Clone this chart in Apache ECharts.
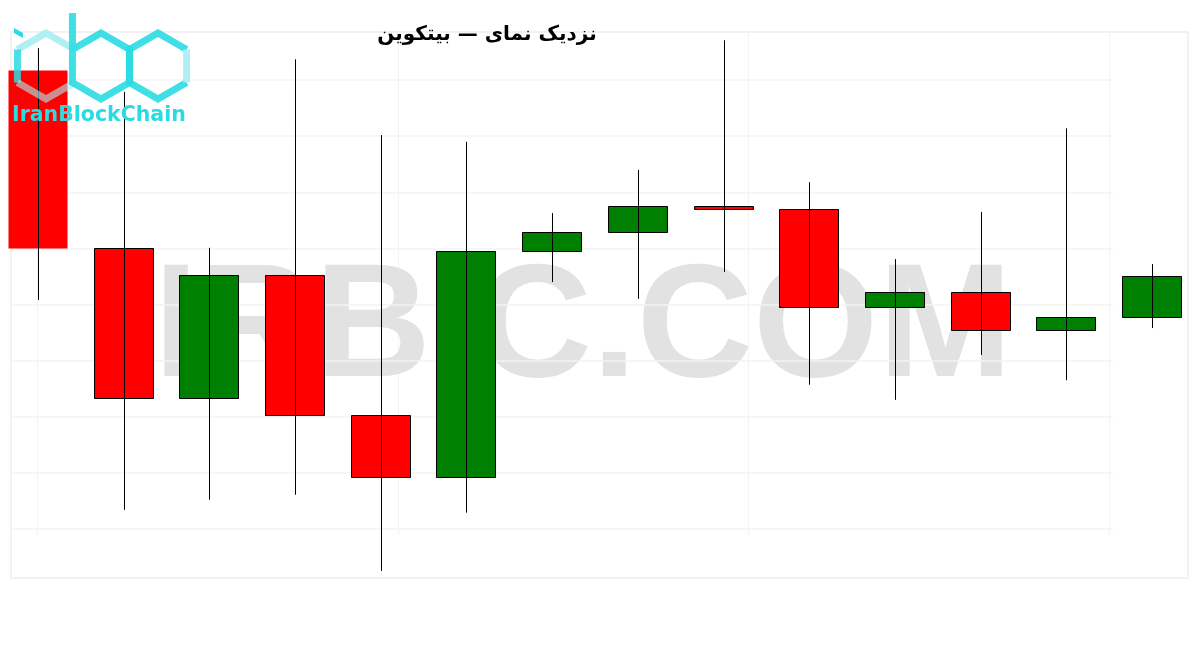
<!DOCTYPE html>
<html>
<head>
<meta charset="utf-8">
<title>بیتکوین — نمای نزدیک</title>
<script src="https://cdn.jsdelivr.net/npm/echarts@6/dist/echarts.min.js"></script>
<style>
  html, body { margin: 0; padding: 0; background: #fff; }
  #chart { width: 1200px; height: 650px; }
</style>
</head>
<body>
<div id="chart"></div>
<script>
// candles (no price axis is shown, so the scale is arbitrary)
const categories = ['08:00', '09:00', '10:00', '11:00', '12:00', '13:00', '14:00',
  '15:00', '16:00', '17:00', '18:00', '19:00', '20:00', '21:00']
const openValues = [9818, 9501, 9233, 9453, 9203, 9093, 9495, 9529, 9576, 9570, 9396, 9422, 9355, 9377]
const closeValues = [9501, 9233, 9453, 9203, 9093, 9495, 9529, 9576, 9570, 9396, 9422, 9355, 9378, 9451]
const lowValues = [9408, 9034, 9052, 9061, 8925, 9029, 9440, 9410, 9458, 9257, 9230, 9310, 9265, 9358]
const highValues = [9857, 9779, 9501, 9837, 9702, 9690, 9563, 9640, 9871, 9618, 9481, 9565, 9714, 9472]

const chartTitle = 'بیتکوین — نمای نزدیک'
const watermark = 'IRBIC.COM'
const logoText = 'IranBlockChain'

const yMin = 8900
const yMax = 9900

// the picture lays the words out left to right: one rich token per word
const titleShown = chartTitle.split(' ').map(w => '{w|' + w + '}').join('{w| }')

// logo hexagons
const hexR = 33
const hexCy = 66
const hw = hexR * Math.cos(Math.PI / 6)
function hexPoints (cx) {
  return {
    top: [cx, hexCy - hexR],
    ur: [cx + hw, hexCy - hexR / 2],
    lr: [cx + hw, hexCy + hexR / 2],
    bot: [cx, hexCy + hexR],
    ll: [cx - hw, hexCy + hexR / 2],
    ul: [cx - hw, hexCy - hexR / 2]
  }
}
const hi = hexPoints(46)
const hb = hexPoints(101)
const hc = hexPoints(158)
const cyan = '#2adbe2'
const cyanLight = '#a9eef1'

function line (points, color, opacity) {
  return {
    type: 'polyline',
    shape: { points: points },
    style: { stroke: color, lineWidth: 7, fill: null, opacity: opacity, lineJoin: 'miter' },
    z: 10,
    silent: true
  }
}

const chart = echarts.init(document.getElementById('chart'))

const titleFont = {
  color: '#000',
  fontSize: 20,
  fontWeight: 'bold',
  fontFamily: 'DejaVu Sans'
}

const options = {
  backgroundColor: '#fff',
  animation: false,
  title: {
    text: titleShown,
    left: 482,
    top: 20,
    textAlign: 'center',
    textStyle: Object.assign({}, titleFont, { rich: { w: titleFont } })
  },
  grid: [
    { left: -5, width: 1200, top: 24, height: 561, outerBoundsMode: 'none' },
    { left: 11, width: 1102, top: 24, height: 561, outerBoundsMode: 'none' }
  ],
  xAxis: [
    {
      type: 'category',
      gridIndex: 0,
      data: categories,
      show: false
    },
    {
      type: 'value',
      gridIndex: 1,
      show: false
    }
  ],
  yAxis: [
    {
      type: 'value',
      gridIndex: 0,
      min: yMin,
      max: yMax,
      interval: 100,
      show: false
    },
    {
      type: 'value',
      gridIndex: 1,
      min: yMin,
      max: yMax,
      interval: 100,
      axisLine: { show: false },
      axisTick: { show: false },
      axisLabel: { show: false },
      splitLine: {
        show: true,
        showMinLine: false,
        showMaxLine: false,
        lineStyle: { color: '#f3f3f3', width: 1.5 }
      }
    }
  ],
  graphic: [
    // faint frame and vertical guides behind the chart
    {
      type: 'rect',
      shape: { x: 11, y: 32, width: 1177, height: 546 },
      style: { stroke: '#f2f2f2', lineWidth: 2, fill: null },
      z: -5,
      silent: true
    },
    ...[37, 398, 748, 1109].map(x => ({
      type: 'line',
      shape: { x1: x + 0.5, y1: 32, x2: x + 0.5, y2: 535 },
      style: { stroke: '#f3f3f3', lineWidth: 1 },
      z: -5,
      silent: true
    })),
    {
      type: 'text',
      style: {
        text: watermark,
        x: 583,
        y: 332,
        align: 'center',
        verticalAlign: 'middle',
        fill: '#e2e2e2',
        font: 'bold 161px "Liberation Sans"'
      },
      z: -1,
      silent: true
    },
    // logo
    line([hi.ur, hi.top, hi.ul], cyanLight, 0.9),
    line([hi.ul, hi.ll], cyan, 0.85),
    line([hi.ll, hi.bot, hi.lr], cyanLight, 0.6),
    {
      type: 'polygon',
      shape: { points: [[14, 28], [23, 33], [23, 38], [14, 33]] },
      style: { fill: cyan },
      z: 10,
      silent: true
    },
    line([[hb.ul[0], 13], hb.ul, hb.ll, hb.bot, hb.lr, hb.ur, hb.top, hb.ul], cyan, 0.9),
    line([hc.ur, hc.top, hc.ul, hc.ll, hc.bot, hc.lr], cyan, 0.9),
    line([hc.ur, hc.lr], cyanLight, 0.9),
    {
      type: 'text',
      style: {
        text: logoText,
        x: 12,
        y: 116,
        verticalAlign: 'middle',
        fill: cyan,
        font: 'bold 20.5px "DejaVu Sans"'
      },
      z: 10,
      silent: true
    }
  ],
  series: [
    {
      // body with a black outline, wick drawn across it
      type: 'custom',
      xAxisIndex: 0,
      yAxisIndex: 0,
      data: categories.map((c, i) => [i, openValues[i], closeValues[i], lowValues[i], highValues[i]]),
      encode: { x: 0, y: [1, 2, 3, 4] },
      renderItem: (params, api) => {
        const i = api.value(0)
        const o = api.coord([i, api.value(1)])
        const c = api.coord([i, api.value(2)])
        const l = api.coord([i, api.value(3)])
        const h = api.coord([i, api.value(4)])
        const bw = Math.round(api.size([1, 0])[0] * 0.69)
        const cx = Math.round(o[0])
        const top = Math.round(Math.min(o[1], c[1]))
        const bottom = Math.round(Math.max(o[1], c[1]))
        const up = api.value(2) >= api.value(1)
        const outline = params.dataIndex !== 0
        return {
          type: 'group',
          children: [
            {
              type: 'rect',
              shape: { x: cx - Math.round(bw / 2) + 0.5, y: top + 0.5, width: bw, height: Math.max(bottom - top, 2) },
              style: {
                fill: up ? '#008000' : '#ff0000',
                stroke: outline ? '#000' : null,
                lineWidth: 1
              }
            },
            {
              type: 'line',
              shape: { x1: cx + 0.5, y1: l[1], x2: cx + 0.5, y2: h[1] },
              style: { stroke: '#000', lineWidth: 1 }
            }
          ]
        }
      }
    }
  ]
}

chart.setOption(options)
window.addEventListener('resize', () => {
  chart.resize()
})
</script>
</body>
</html>
